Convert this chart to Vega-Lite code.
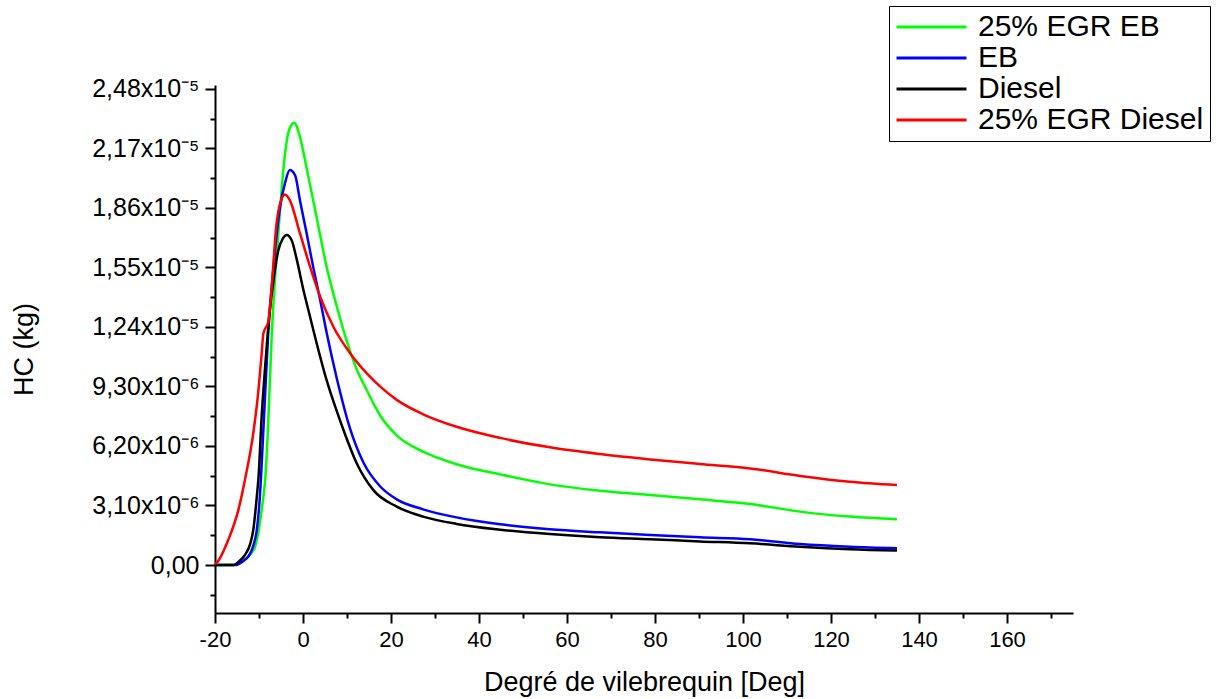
{
  "$schema": "https://vega.github.io/schema/vega-lite/v6.json",
  "width": 858,
  "height": 528,
  "autosize": {"type": "none"},
  "padding": {"left": 215, "top": 85, "right": 150, "bottom": 86},
  "background": "white",
  "config": {
    "view": {"stroke": null},
    "font": "Liberation Sans",
    "axis": {"grid": false, "domainColor": "black", "domainWidth": 2, "tickColor": "black", "tickWidth": 2, "labelColor": "black", "titleColor": "black", "labelFont": "Liberation Sans", "titleFont": "Liberation Sans", "titleFontWeight": "normal"}
  },
  "datasets": {
    "hc": [
      {"series": "25% EGR EB", "deg": -20, "hc": 0},
      {"series": "25% EGR EB", "deg": -15.5, "hc": 0},
      {"series": "25% EGR EB", "deg": -13.5, "hc": 0.25e-6},
      {"series": "25% EGR EB", "deg": -12, "hc": 0.55e-6},
      {"series": "25% EGR EB", "deg": -10.9, "hc": 0.95e-6},
      {"series": "25% EGR EB", "deg": -10.0, "hc": 1.9e-6},
      {"series": "25% EGR EB", "deg": -9.5, "hc": 2.7e-6},
      {"series": "25% EGR EB", "deg": -9.0, "hc": 3.56e-6},
      {"series": "25% EGR EB", "deg": -8.6, "hc": 4.43e-6},
      {"series": "25% EGR EB", "deg": -8.0, "hc": 6.9e-6},
      {"series": "25% EGR EB", "deg": -7.1, "hc": 12.0e-6},
      {"series": "25% EGR EB", "deg": -5.6, "hc": 17.3e-6},
      {"series": "25% EGR EB", "deg": -4.1, "hc": 21.4e-6},
      {"series": "25% EGR EB", "deg": -3.1, "hc": 22.7e-6},
      {"series": "25% EGR EB", "deg": -2.0, "hc": 23.04e-6},
      {"series": "25% EGR EB", "deg": -0.7, "hc": 22.3e-6},
      {"series": "25% EGR EB", "deg": 0.8, "hc": 20.7e-6},
      {"series": "25% EGR EB", "deg": 3.1, "hc": 18.1e-6},
      {"series": "25% EGR EB", "deg": 5.4, "hc": 15.5e-6},
      {"series": "25% EGR EB", "deg": 7.7, "hc": 13.45e-6},
      {"series": "25% EGR EB", "deg": 9.9, "hc": 11.7e-6},
      {"series": "25% EGR EB", "deg": 12.2, "hc": 10.2e-6},
      {"series": "25% EGR EB", "deg": 14.5, "hc": 9.1e-6},
      {"series": "25% EGR EB", "deg": 17.5, "hc": 7.8e-6},
      {"series": "25% EGR EB", "deg": 21.3, "hc": 6.75e-6},
      {"series": "25% EGR EB", "deg": 27.3, "hc": 5.9e-6},
      {"series": "25% EGR EB", "deg": 34.9, "hc": 5.25e-6},
      {"series": "25% EGR EB", "deg": 44.8, "hc": 4.72e-6},
      {"series": "25% EGR EB", "deg": 56.1, "hc": 4.2e-6},
      {"series": "25% EGR EB", "deg": 67.5, "hc": 3.87e-6},
      {"series": "25% EGR EB", "deg": 78.9, "hc": 3.65e-6},
      {"series": "25% EGR EB", "deg": 90.2, "hc": 3.42e-6},
      {"series": "25% EGR EB", "deg": 101.6, "hc": 3.18e-6},
      {"series": "25% EGR EB", "deg": 113.0, "hc": 2.78e-6},
      {"series": "25% EGR EB", "deg": 124.3, "hc": 2.52e-6},
      {"series": "25% EGR EB", "deg": 135.0, "hc": 2.38e-6},

      {"series": "EB", "deg": -20, "hc": 0},
      {"series": "EB", "deg": -15.2, "hc": 0},
      {"series": "EB", "deg": -13.6, "hc": 0.2e-6},
      {"series": "EB", "deg": -12.4, "hc": 0.45e-6},
      {"series": "EB", "deg": -11.3, "hc": 1.0e-6},
      {"series": "EB", "deg": -10.5, "hc": 1.82e-6},
      {"series": "EB", "deg": -9.8, "hc": 3.56e-6},
      {"series": "EB", "deg": -9.4, "hc": 5.2e-6},
      {"series": "EB", "deg": -8.6, "hc": 8.94e-6},
      {"series": "EB", "deg": -7.9, "hc": 12.07e-6},
      {"series": "EB", "deg": -6.7, "hc": 15.54e-6},
      {"series": "EB", "deg": -5.2, "hc": 18.66e-6},
      {"series": "EB", "deg": -4.1, "hc": 19.88e-6},
      {"series": "EB", "deg": -3.0, "hc": 20.57e-6},
      {"series": "EB", "deg": -1.8, "hc": 20.3e-6},
      {"series": "EB", "deg": -0.7, "hc": 19.0e-6},
      {"series": "EB", "deg": 0.8, "hc": 17.3e-6},
      {"series": "EB", "deg": 2.3, "hc": 15.54e-6},
      {"series": "EB", "deg": 3.9, "hc": 13.8e-6},
      {"series": "EB", "deg": 5.4, "hc": 12.07e-6},
      {"series": "EB", "deg": 7.7, "hc": 9.7e-6},
      {"series": "EB", "deg": 10.7, "hc": 7.1e-6},
      {"series": "EB", "deg": 13.7, "hc": 5.35e-6},
      {"series": "EB", "deg": 17.5, "hc": 4.1e-6},
      {"series": "EB", "deg": 21.3, "hc": 3.42e-6},
      {"series": "EB", "deg": 27.3, "hc": 2.9e-6},
      {"series": "EB", "deg": 34.9, "hc": 2.48e-6},
      {"series": "EB", "deg": 44.8, "hc": 2.12e-6},
      {"series": "EB", "deg": 56.1, "hc": 1.86e-6},
      {"series": "EB", "deg": 67.5, "hc": 1.70e-6},
      {"series": "EB", "deg": 78.9, "hc": 1.56e-6},
      {"series": "EB", "deg": 90.2, "hc": 1.44e-6},
      {"series": "EB", "deg": 101.6, "hc": 1.34e-6},
      {"series": "EB", "deg": 113.0, "hc": 1.09e-6},
      {"series": "EB", "deg": 124.3, "hc": 0.95e-6},
      {"series": "EB", "deg": 135.0, "hc": 0.87e-6},

      {"series": "Diesel", "deg": -20, "hc": 0},
      {"series": "Diesel", "deg": -15.8, "hc": 0},
      {"series": "Diesel", "deg": -14.5, "hc": 0.2e-6},
      {"series": "Diesel", "deg": -13.2, "hc": 0.52e-6},
      {"series": "Diesel", "deg": -12.0, "hc": 1.1e-6},
      {"series": "Diesel", "deg": -11.3, "hc": 1.82e-6},
      {"series": "Diesel", "deg": -10.5, "hc": 3.56e-6},
      {"series": "Diesel", "deg": -10.1, "hc": 4.6e-6},
      {"series": "Diesel", "deg": -9.4, "hc": 7.72e-6},
      {"series": "Diesel", "deg": -8.6, "hc": 10.33e-6},
      {"series": "Diesel", "deg": -7.9, "hc": 12.41e-6},
      {"series": "Diesel", "deg": -6.7, "hc": 14.84e-6},
      {"series": "Diesel", "deg": -5.6, "hc": 16.4e-6},
      {"series": "Diesel", "deg": -4.6, "hc": 17.0e-6},
      {"series": "Diesel", "deg": -3.7, "hc": 17.19e-6},
      {"series": "Diesel", "deg": -2.6, "hc": 16.93e-6},
      {"series": "Diesel", "deg": -1.4, "hc": 15.89e-6},
      {"series": "Diesel", "deg": 0.1, "hc": 14.32e-6},
      {"series": "Diesel", "deg": 1.6, "hc": 12.93e-6},
      {"series": "Diesel", "deg": 3.1, "hc": 11.55e-6},
      {"series": "Diesel", "deg": 5.4, "hc": 9.6e-6},
      {"series": "Diesel", "deg": 7.7, "hc": 8.0e-6},
      {"series": "Diesel", "deg": 9.2, "hc": 7.03e-6},
      {"series": "Diesel", "deg": 12.2, "hc": 5.3e-6},
      {"series": "Diesel", "deg": 16.0, "hc": 3.9e-6},
      {"series": "Diesel", "deg": 21.3, "hc": 3.04e-6},
      {"series": "Diesel", "deg": 27.3, "hc": 2.52e-6},
      {"series": "Diesel", "deg": 34.9, "hc": 2.14e-6},
      {"series": "Diesel", "deg": 44.8, "hc": 1.84e-6},
      {"series": "Diesel", "deg": 56.1, "hc": 1.61e-6},
      {"series": "Diesel", "deg": 67.5, "hc": 1.44e-6},
      {"series": "Diesel", "deg": 78.9, "hc": 1.34e-6},
      {"series": "Diesel", "deg": 90.2, "hc": 1.23e-6},
      {"series": "Diesel", "deg": 101.6, "hc": 1.13e-6},
      {"series": "Diesel", "deg": 113.0, "hc": 0.95e-6},
      {"series": "Diesel", "deg": 124.3, "hc": 0.82e-6},
      {"series": "Diesel", "deg": 135.0, "hc": 0.75e-6},

      {"series": "25% EGR Diesel", "deg": -20, "hc": 0.05e-6},
      {"series": "25% EGR Diesel", "deg": -19.6, "hc": 0.12e-6},
      {"series": "25% EGR Diesel", "deg": -17.0, "hc": 1.3e-6},
      {"series": "25% EGR Diesel", "deg": -14.7, "hc": 2.86e-6},
      {"series": "25% EGR Diesel", "deg": -13.2, "hc": 4.43e-6},
      {"series": "25% EGR Diesel", "deg": -11.3, "hc": 6.86e-6},
      {"series": "25% EGR Diesel", "deg": -10.2, "hc": 8.94e-6},
      {"series": "25% EGR Diesel", "deg": -9.4, "hc": 11.0e-6},
      {"series": "25% EGR Diesel", "deg": -9.0, "hc": 12.07e-6},
      {"series": "25% EGR Diesel", "deg": -7.9, "hc": 12.67e-6},
      {"series": "25% EGR Diesel", "deg": -7.1, "hc": 14.5e-6},
      {"series": "25% EGR Diesel", "deg": -6.1, "hc": 17.6e-6},
      {"series": "25% EGR Diesel", "deg": -5.2, "hc": 18.84e-6},
      {"series": "25% EGR Diesel", "deg": -4.1, "hc": 19.3e-6},
      {"series": "25% EGR Diesel", "deg": -3.0, "hc": 19.0e-6},
      {"series": "25% EGR Diesel", "deg": -0.7, "hc": 17.28e-6},
      {"series": "25% EGR Diesel", "deg": 1.6, "hc": 15.54e-6},
      {"series": "25% EGR Diesel", "deg": 3.9, "hc": 13.97e-6},
      {"series": "25% EGR Diesel", "deg": 6.9, "hc": 12.41e-6},
      {"series": "25% EGR Diesel", "deg": 10.7, "hc": 11.03e-6},
      {"series": "25% EGR Diesel", "deg": 14.5, "hc": 9.98e-6},
      {"series": "25% EGR Diesel", "deg": 17.5, "hc": 9.3e-6},
      {"series": "25% EGR Diesel", "deg": 21.3, "hc": 8.6e-6},
      {"series": "25% EGR Diesel", "deg": 27.3, "hc": 7.85e-6},
      {"series": "25% EGR Diesel", "deg": 34.9, "hc": 7.2e-6},
      {"series": "25% EGR Diesel", "deg": 44.8, "hc": 6.62e-6},
      {"series": "25% EGR Diesel", "deg": 56.1, "hc": 6.13e-6},
      {"series": "25% EGR Diesel", "deg": 67.5, "hc": 5.78e-6},
      {"series": "25% EGR Diesel", "deg": 78.9, "hc": 5.5e-6},
      {"series": "25% EGR Diesel", "deg": 90.2, "hc": 5.26e-6},
      {"series": "25% EGR Diesel", "deg": 101.6, "hc": 5.03e-6},
      {"series": "25% EGR Diesel", "deg": 113.0, "hc": 4.64e-6},
      {"series": "25% EGR Diesel", "deg": 124.3, "hc": 4.34e-6},
      {"series": "25% EGR Diesel", "deg": 135.0, "hc": 4.17e-6}
    ]
  },
  "data": {"name": "hc"},
  "mark": {"type": "line", "strokeWidth": 2.5, "interpolate": "monotone"},
  "encoding": {
    "x": {
      "field": "deg", "type": "quantitative",
      "scale": {"domain": [-20, 175], "nice": false, "zero": false},
      "axis": {
        "title": "Degré de vilebrequin [Deg]",
        "titleFontSize": 27, "titlePadding": 19,
        "labelFontSize": 22, "labelPadding": 6, "labelFlush": false,
        "values": [-20, -10, 0, 10, 20, 30, 40, 50, 60, 70, 80, 90, 100, 110, 120, 130, 140, 150, 160, 170],
        "labelExpr": "abs(datum.value) % 20 == 0 ? '' + datum.value : ''",
        "tickSize": {"condition": {"test": "abs(datum.value) % 20 == 0", "value": 10}, "value": 5}
      }
    },
    "y": {
      "field": "hc", "type": "quantitative",
      "scale": {"domain": [-2.5e-6, 2.5e-5], "nice": false, "zero": false},
      "axis": {
        "title": "HC (kg)",
        "titleFontSize": 27, "titlePadding": 53,
        "labelFontSize": 25, "labelPadding": 6, "labelFlush": false,
        "values": [-1.55e-6, 0, 1.55e-6, 3.1e-6, 4.65e-6, 6.2e-6, 7.75e-6, 9.3e-6, 1.085e-5, 1.24e-5, 1.395e-5, 1.55e-5, 1.705e-5, 1.86e-5, 2.015e-5, 2.17e-5, 2.325e-5, 2.48e-5],
        "labelExpr": "abs(datum.value) < 1e-12 ? '0,00' : (abs(round(datum.value / 1.55e-6)) % 2 == 1 ? '' : replace(format(datum.value / pow(10, floor(log(datum.value) / LN10)), '.2f'), '.', ',') + 'x10' + (floor(log(datum.value) / LN10) == -5 ? '⁻⁵' : '⁻⁶'))",
        "tickSize": {"condition": {"test": "abs(round(datum.value / 1.55e-6)) % 2 == 0", "value": 10}, "value": 5}
      }
    },
    "color": {
      "field": "series", "type": "nominal",
      "scale": {"domain": ["25% EGR EB", "EB", "Diesel", "25% EGR Diesel"], "range": ["#00ff00", "#0000ff", "#000000", "#ff0000"]},
      "legend": {
        "title": null,
        "orient": "none",
        "legendX": 674,
        "legendY": -79,
        "symbolType": "stroke",
        "symbolSize": 4900,
        "symbolStrokeWidth": 3,
        "clipHeight": 30,
        "labelFontSize": 30,
        "labelFont": "Liberation Sans",
        "labelColor": "black",
        "labelOffset": 10,
        "labelLimit": 400,
        "strokeColor": "black",
        "fillColor": "white",
        "padding": 6,
        "rowPadding": 1
      }
    }
  }
}
